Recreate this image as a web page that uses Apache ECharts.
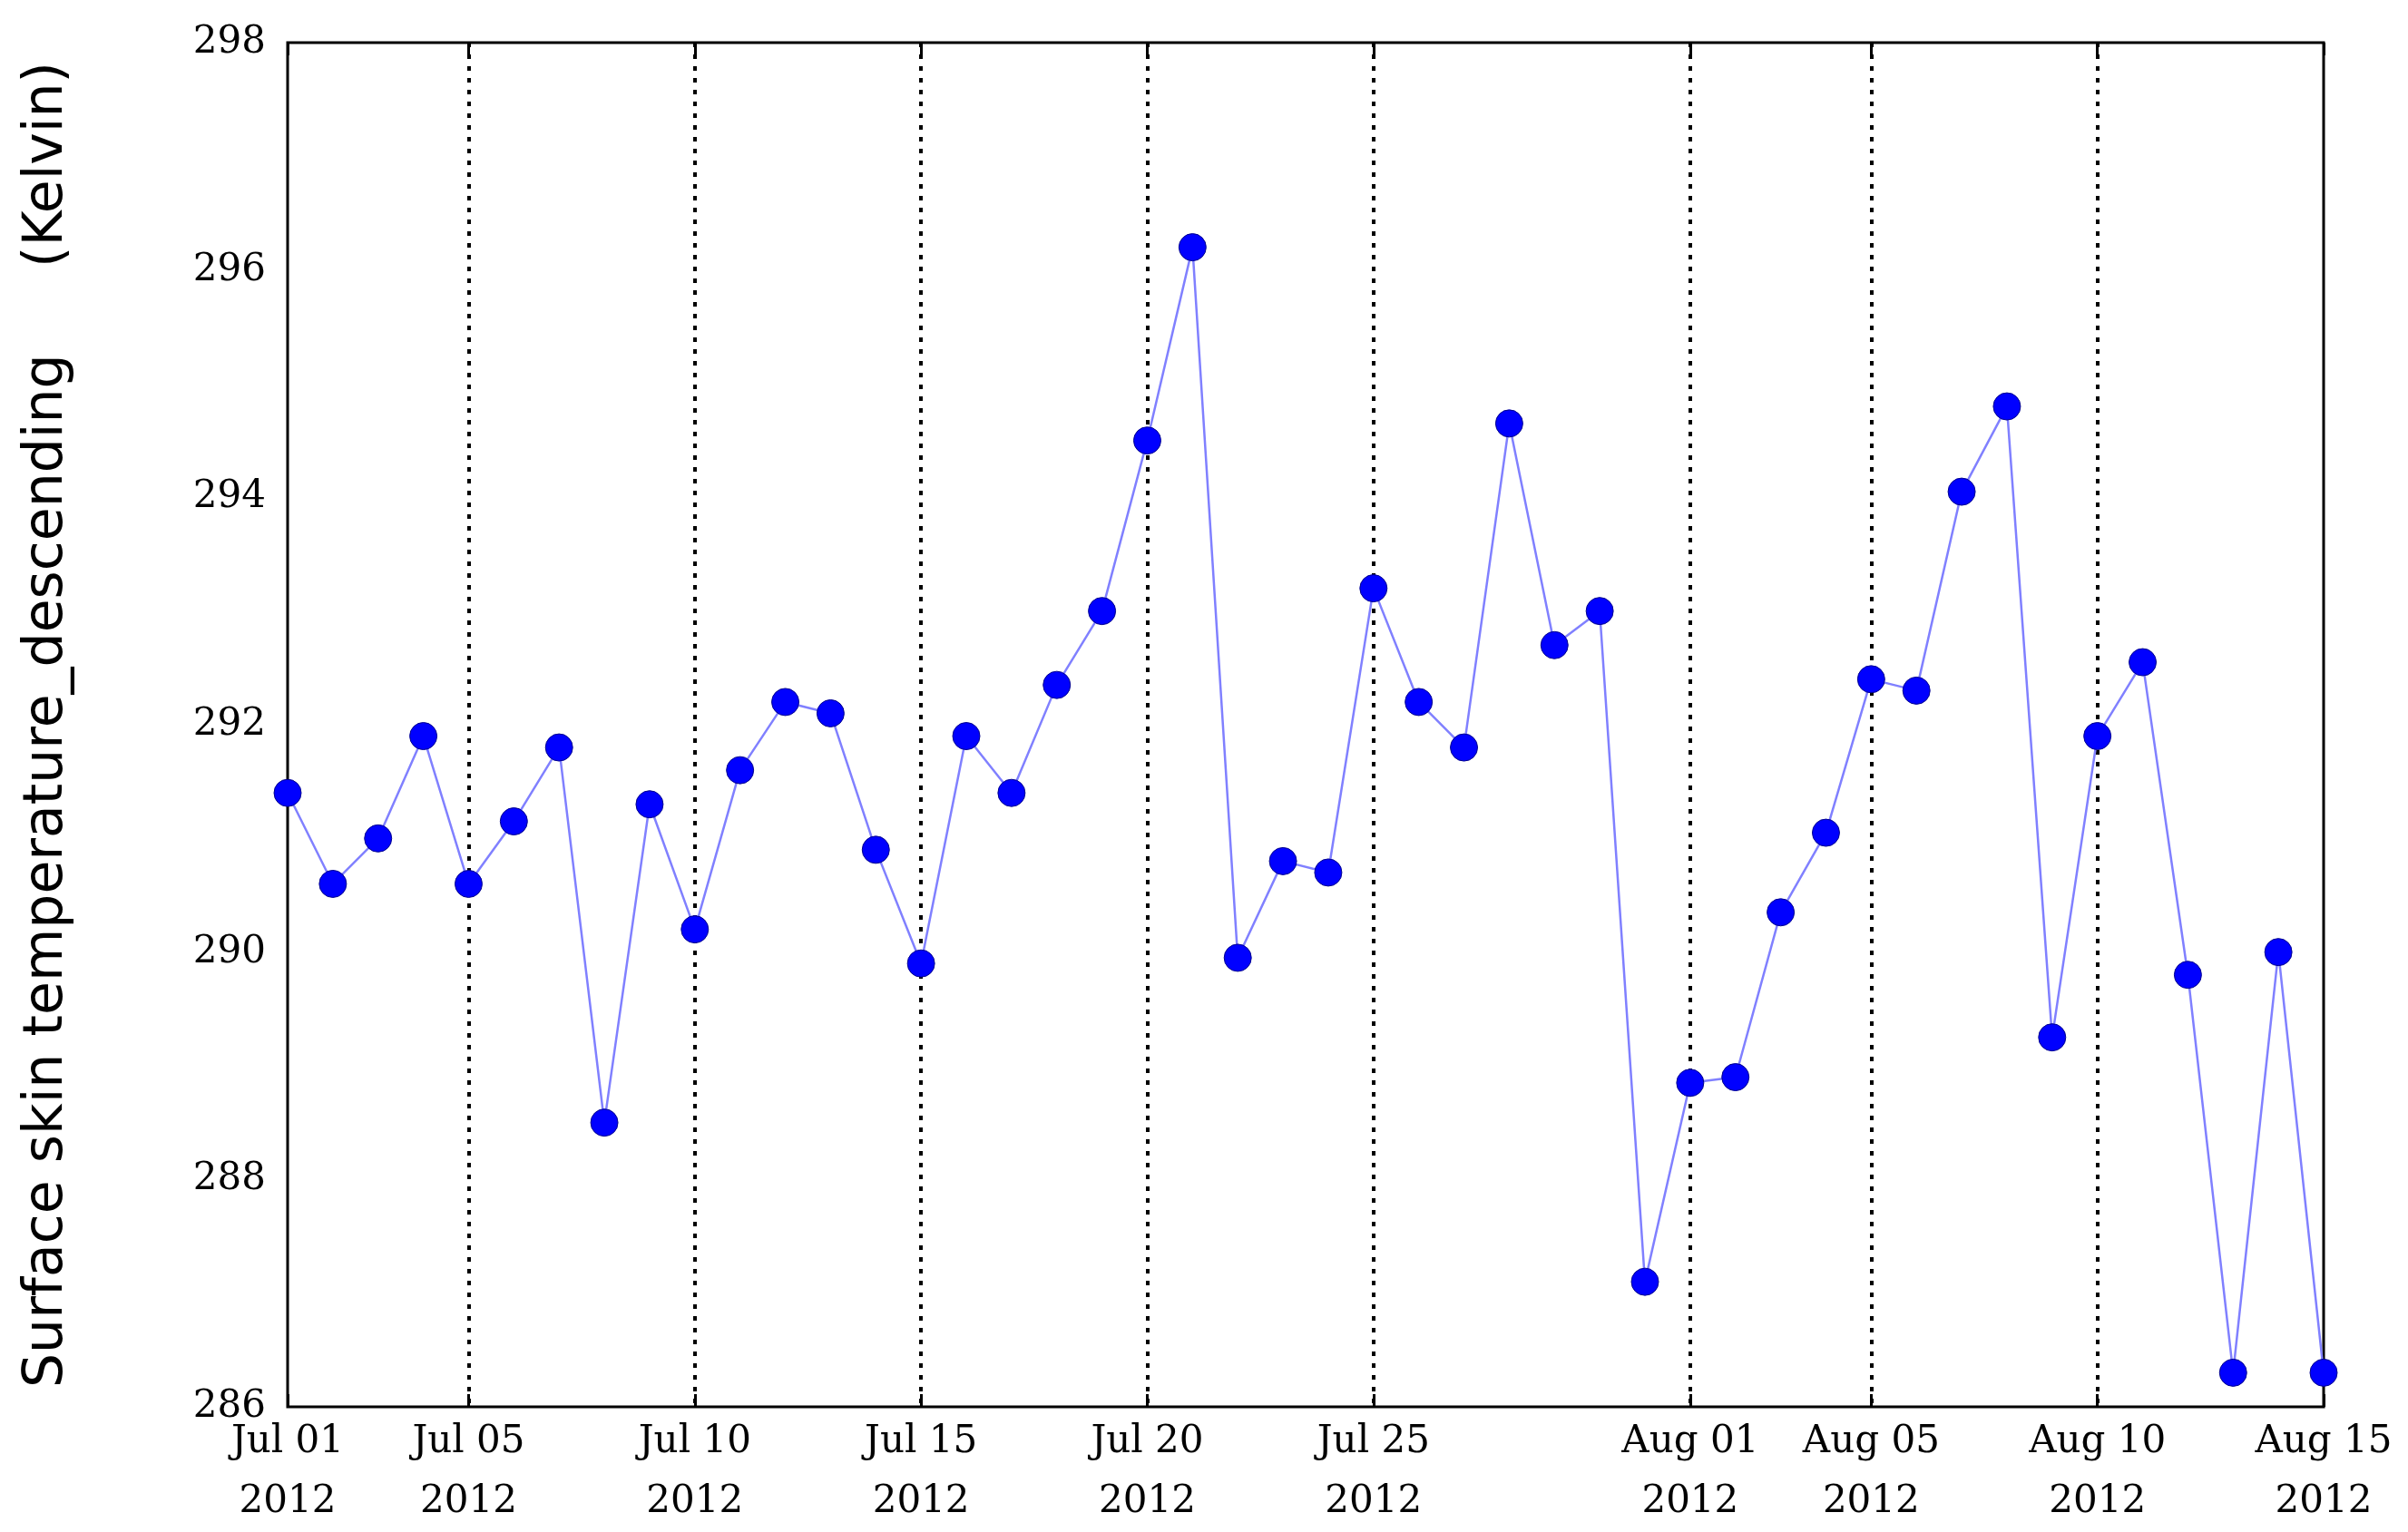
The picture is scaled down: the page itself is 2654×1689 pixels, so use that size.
<!DOCTYPE html>
<html><head><meta charset="utf-8">
<script src="https://cdn.jsdelivr.net/npm/echarts@6/dist/echarts.min.js"></script>
<style>html,body{margin:0;padding:0;background:#fff}#c{width:2654px;height:1689px}</style>
</head><body><div id="c"></div>
<script>
const categories = [];
for (let d = 1; d <= 31; d++) categories.push('Jul ' + String(d).padStart(2,'0'));
for (let d = 1; d <= 15; d++) categories.push('Aug ' + String(d).padStart(2,'0'));
const values = [291.4,290.6,291.0,291.9,290.6,291.15,291.8,288.5,291.3,290.2,
  291.6,292.2,292.1,290.9,289.9,291.9,291.4,292.35,293.0,294.5,
  296.2,289.95,290.8,290.7,293.2,292.2,291.8,294.65,292.7,293.0,
  287.1,288.85,288.9,290.35,291.05,292.4,292.3,294.05,294.8,289.25,
  291.9,292.55,289.8,286.3,290.0,286.3];
const tickIdx = [0,4,9,14,19,24,31,35,40,45];
const yTicks = [286,288,290,292,294,296,298];
const chart = echarts.init(document.getElementById('c'));
const serif = 'DejaVu Serif';
const tickFn = (i)=>tickIdx.includes(i);
chart.setOption({
  animation:false,
  grid:{left:317,right:93,top:47,bottom:128,show:true,borderColor:'#000',borderWidth:3,backgroundColor:'transparent'},
  xAxis:[{type:'category',data:categories,boundaryGap:false,
    axisLine:{show:false},
    axisTick:{inside:true,length:14,lineStyle:{color:'#000',width:3},interval:tickFn},
    axisLabel:{interval:tickFn,formatter:(v)=>v+'\n2012',fontFamily:serif,fontSize:42,color:'#000',lineHeight:66,margin:6},
    splitLine:{show:true,interval:(i)=>tickFn(i)&&i!==0&&i!==45,lineStyle:{color:'#000',type:[5,8],width:4}}},
    {type:'category',data:categories,boundaryGap:false,position:'top',
    axisLine:{show:false},axisLabel:{show:false},
    axisTick:{inside:true,length:14,lineStyle:{color:'#000',width:3},interval:tickFn}}],
  yAxis:[{type:'value',min:286,max:298,interval:2,
    axisLine:{show:false},
    axisTick:{inside:true,length:14,lineStyle:{color:'#000',width:3}},
    axisLabel:{fontFamily:serif,fontSize:42,color:'#000',margin:24,formatter:(v)=>yTicks.includes(v)?String(v):''},
    splitLine:{show:false},
    name:'Surface skin temperature_descending     (Kelvin)',nameLocation:'middle',nameGap:235,
    nameTextStyle:{fontFamily:'DejaVu Sans',fontSize:60,color:'#000'}},
    {type:'value',min:286,max:298,interval:2,position:'right',
    axisLine:{show:false},axisLabel:{show:false},splitLine:{show:false},
    axisTick:{inside:true,length:14,lineStyle:{color:'#000',width:3}}}],
  series:[{type:'line',data:values,symbol:'circle',symbolSize:30,
    lineStyle:{color:'#8080ff',width:2.5},itemStyle:{color:'#0000ff',borderColor:'#00008b',borderWidth:1},clip:false}]
});
</script></body></html>
